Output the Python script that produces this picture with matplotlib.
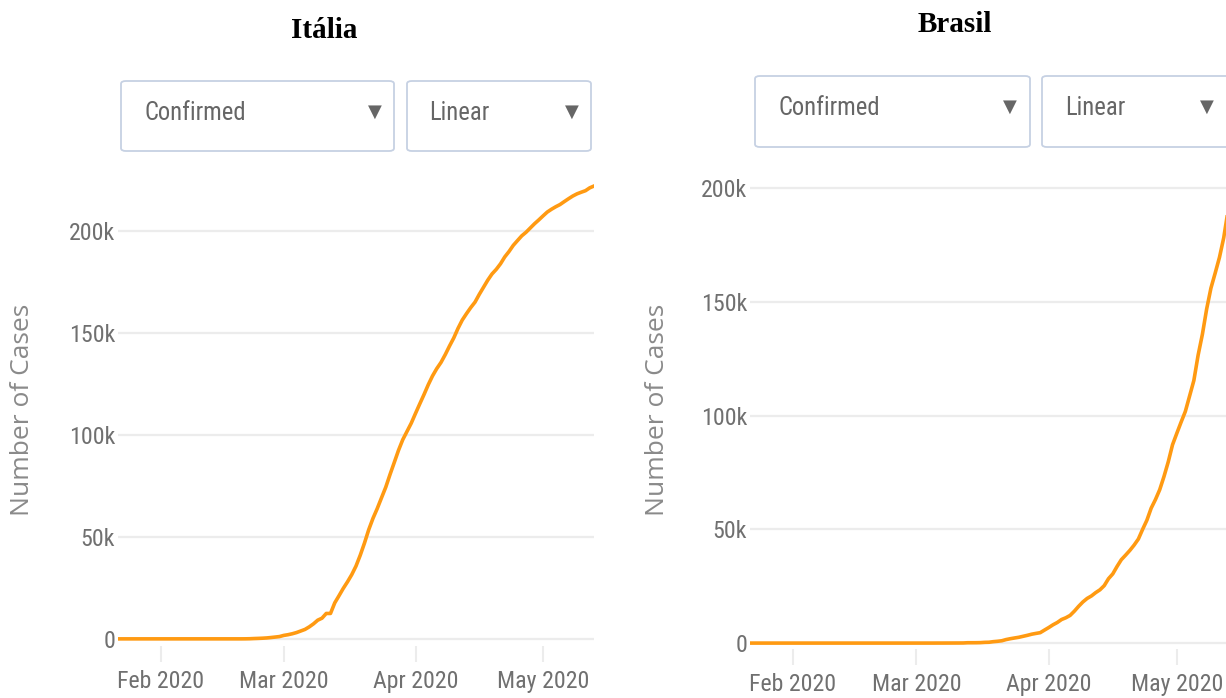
import matplotlib
matplotlib.use('Agg')
import matplotlib.pyplot as plt
import matplotlib.dates as mdates
from matplotlib.patches import FancyBboxPatch
from matplotlib import font_manager
from matplotlib.font_manager import FontProperties
import pandas as pd

W, H = 1226, 698

# daily confirmed cases, 22 Jan 2020 - 13 May 2020
dates = pd.date_range('2020-01-22', '2020-05-13')

italia = [0, 0, 0, 0, 0, 0, 0, 0, 0,
          2, 2, 2, 2, 2, 2,
          3, 3, 3, 3, 3, 3, 3, 3, 3, 3, 3, 3, 3, 3, 3,
          20, 62, 155, 229, 322, 453, 655, 888, 1128,
          1694, 2036, 2502, 3089, 3858, 4636, 5883, 7375, 9172, 10149,
          12462, 12462, 17660, 21157, 24747, 27980, 31506, 35713, 41035, 47021,
          53578, 59138, 63927, 69176, 74386, 80589, 86498, 92472, 97689, 101739,
          105792,
          110574, 115242, 119827, 124632, 128948, 132547, 135586, 139422, 143626, 147577,
          152271, 156363, 159516, 162488, 165155, 168941, 172434, 175925, 178972, 181228,
          183957, 187327, 189973, 192994, 195351, 197675, 199414, 201505, 203591, 205463,
          207428, 209328, 210717, 211938, 213013, 214457, 215858, 217185, 218268, 219070,
          219814, 221216, 222104]

brasil = [0, 0, 0, 0, 0, 0, 0, 0, 0, 0,
          0, 0, 0, 0, 0, 0, 0, 0, 0, 0, 0, 0, 0, 0, 0,
          0, 0, 0, 0, 0, 0, 0, 0, 0, 0,
          1, 1, 1, 2,
          2, 2, 2, 4, 4, 13, 13, 20, 25, 31,
          38, 52, 151, 151, 162, 200, 321, 372, 621, 793,
          1021, 1546, 1924, 2247, 2554, 2985, 3417, 3904, 4256, 4579,
          5717,
          6836, 8044, 9056, 10360, 11130, 12161, 14034, 16170, 18092, 19638,
          20727, 22192, 23430, 25262, 28320, 30425, 33682, 36658, 38654, 40743,
          43079, 45757, 50036, 54043, 59324, 63100, 67446, 73235, 79685, 87187,
          92202, 97100, 101826, 108620, 115455, 126611, 135773, 146894, 156061, 162699,
          169594, 178214, 190137]

ytick_vals = [0, 50000, 100000, 150000, 200000]
ytick_labels = ['0', '50k', '100k', '150k', '200k']

ORANGE = '#ff9a12'
GRID = '#ececec'

fig = plt.figure(figsize=(W / 100, H / 100), dpi=100)
fig.patch.set_facecolor('white')
renderer = fig.canvas.get_renderer()

ALLOWED = {'Noto Sans', 'Noto Sans Condensed', 'Noto Sans SemiCondensed',
           'Noto Sans ExtraCondensed', 'Liberation Sans Narrow', 'Roboto Condensed',
           'Open Sans', 'Open Sans Condensed', 'Open Sans SemiCondensed', 'Roboto',
           'Liberation Sans', 'DejaVu Sans', 'DejaVu Sans Condensed', 'Lato', 'Inter',
           'Ubuntu Condensed', 'Arial Narrow'}


def as_int_weight(w):
    if isinstance(w, str):
        return font_manager.weight_dict.get(w, 400)
    return int(w)


# the reference labels use a narrow regular sans ("Feb 2020" ~87 px wide at ~18pt);
# pick the installed regular sans face whose width is closest to that
best = None
for f in font_manager.fontManager.ttflist:
    if f.name not in ALLOWED or f.style != 'normal':
        continue
    if not (380 <= as_int_weight(f.weight) <= 500):
        continue
    try:
        fp = FontProperties(fname=f.fname, size=18)
        w = renderer.get_text_width_height_descent('Feb 2020', fp, ismath=False)[0]
    except Exception:
        continue
    score = abs(w - 87.0)
    if best is None or score < best[2]:
        best = (f.fname, w, score)
NARROW_PATH = best[0]
LABEL_FS = max(15.0, min(19.0, 18 * 87.0 / best[1]))


def nprop(size):
    return FontProperties(fname=NARROW_PATH, size=size)


def px_axes(left, top, right, bottom):
    return fig.add_axes([left / W, 1 - bottom / H, (right - left) / W, (bottom - top) / H])


def dropdown(x0, y0, x1, y1, text, tx, trx, ty):
    box = FancyBboxPatch((x0 / W, 1 - y1 / H), (x1 - x0) / W, (y1 - y0) / H,
                         boxstyle='round,pad=0,rounding_size=0.004',
                         transform=fig.transFigure, fc='white', ec='#c6d1e3', lw=1.3)
    fig.add_artist(box)
    fig.text(tx / W, 1 - ty / H, text, ha='left', va='center',
             fontproperties=nprop(LABEL_FS * 1.03), color='#666666')
    fig.text(trx / W, 1 - (ty - 1) / H, '\u25BC', ha='center', va='center', fontsize=13,
             color='#666666', family='DejaVu Sans')


def panel(ax, values, ylim, label_x):
    ax.plot(dates, values, color=ORANGE, lw=2.6, solid_joinstyle='round', zorder=3)
    ax.set_xlim(dates[0], dates[-1])
    ax.set_ylim(*ylim)
    ax.set_yticks(ytick_vals)
    ax.set_yticklabels(ytick_labels)
    ax.xaxis.set_major_locator(mdates.MonthLocator())
    ax.xaxis.set_major_formatter(mdates.DateFormatter('%b %Y'))
    for s in ax.spines.values():
        s.set_visible(False)
    ax.yaxis.grid(True, color=GRID, lw=1.6)
    ax.set_axisbelow(True)
    ax.tick_params(axis='x', direction='out', length=11.5, width=1.5, color=GRID,
                   labelcolor='#707070', pad=6)
    ax.tick_params(axis='y', length=0, labelcolor='#707070', pad=2)
    for lab in ax.get_xticklabels() + ax.get_yticklabels():
        lab.set_fontproperties(nprop(LABEL_FS))
    ax.set_ylabel('Number of Cases', fontsize=19, color='#8a8a8a', family='Open Sans',
                  va='center')
    ax.yaxis.set_label_coords(label_x, 0.5)


ax1 = px_axes(118, 174, 594, 646)
panel(ax1, italia, (-3500, 228000), (23 - 118) / 476)

ax2 = px_axes(750, 170, 1228, 649)
panel(ax2, brasil, (-2600, 208000), (658 - 750) / 478)

fig.text(324 / W, 1 - 30 / H, 'Itália', ha='center', va='center', fontsize=21,
         fontweight='bold', family='Liberation Serif')
fig.text(955 / W, 1 - 24 / H, 'Brasil', ha='center', va='center', fontsize=21,
         fontweight='bold', family='Liberation Serif')

dropdown(121, 81, 394, 151, 'Confirmed', 145, 375, 113)
dropdown(407, 81, 591, 151, 'Linear', 429, 572, 113)
dropdown(755, 76, 1030, 147, 'Confirmed', 778, 1010, 108)
dropdown(1042, 76, 1240, 147, 'Linear', 1065, 1207, 108)

fig.savefig('out.png', dpi=100, facecolor='white')
